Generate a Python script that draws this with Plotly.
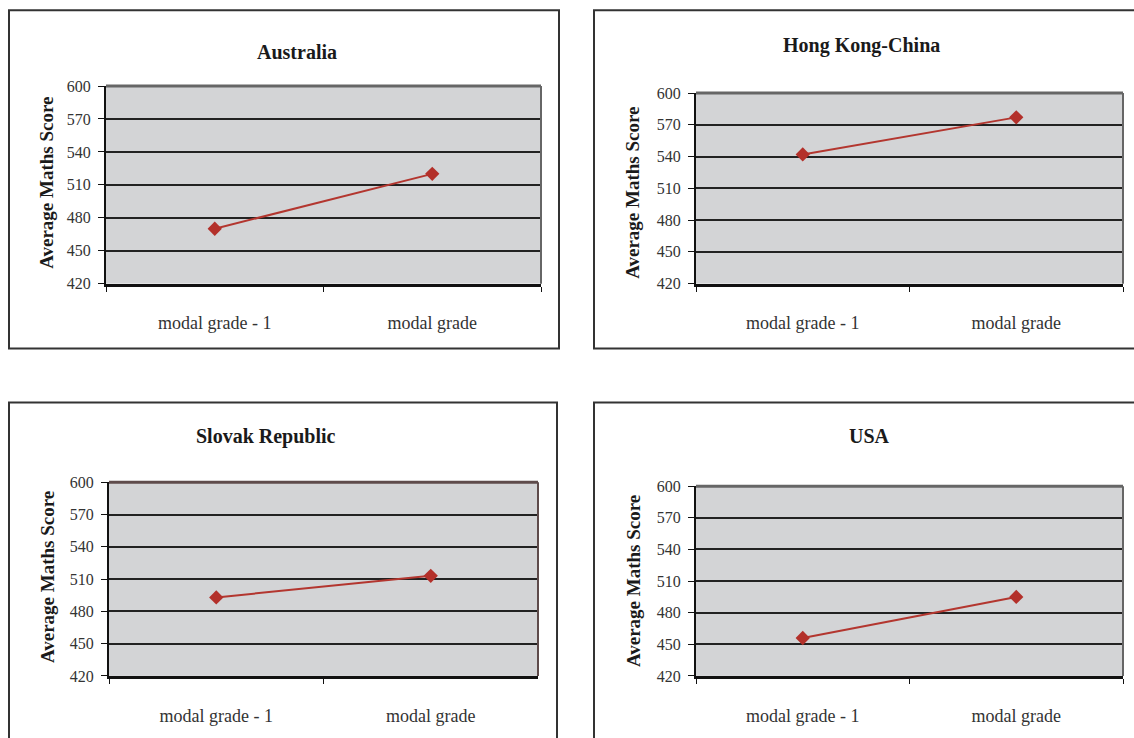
import plotly.graph_objects as go

W, H = 1134, 738

categories = ["modal grade - 1", "modal grade"]
countries = ["Australia", "Hong Kong-China", "Slovak Republic", "USA"]
australia = [470, 520]
hong_kong = [542, 577]
slovak = [493, 513]
usa = [456, 495]
y_ticks = [420, 450, 480, 510, 540, 570, 600]
y_title = "Average Maths Score"

series = [australia, hong_kong, slovak, usa]

# layout in pixels: plot area (x0, x1, y0, y1), panel box, title pos, ytitle pos
panels = [
    dict(plot=(106, 541, 86, 284), box=(9, 559, 10, 349), title=(297, 52), ytitle=(47, 183), edge="#666666"),
    dict(plot=(696, 1123, 93, 284), box=(594, 1145, 10, 349), title=(861, 45), ytitle=(633, 193), edge="#666666"),
    dict(plot=(109, 538, 483, 677), box=(9, 557, 403, 760), title=(266, 437), ytitle=(47, 578), edge="#5e4b4b"),
    dict(plot=(696, 1123, 487, 677), box=(594, 1145, 403, 760), title=(869, 437), ytitle=(633, 582), edge="#666666"),
]

# the rendered page maps figure y to screen y as approx 0.9788*y + 7.83; compensate
SY, OY = 0.9788, 7.83

def px(x):
    return x / W

def py(y):
    return 1 - ((y - OY) / SY) / H

FONT = "Liberation Serif"
fig = go.Figure()
layout = dict(
    width=W, height=H, margin=dict(l=0, r=0, t=0, b=0), autosize=False,
    paper_bgcolor="white", plot_bgcolor="#d3d4d6", showlegend=False,
    font=dict(family=FONT, color="#333333"),
)
shapes = []
annotations = []

for i, (name, vals, p) in enumerate(zip(countries, series, panels)):
    sfx = "" if i == 0 else str(i + 1)
    fig.add_trace(go.Scatter(
        x=categories, y=vals, mode="lines+markers",
        line=dict(color="#b3362f", width=2),
        marker=dict(symbol="diamond", size=11, color="#b3302a"),
        xaxis="x" + sfx, yaxis="y" + sfx,
    ))
    x0, x1, y0, y1 = p["plot"]
    layout["xaxis" + sfx] = dict(
        domain=[px(x0), px(x1)], anchor="y" + sfx,
        type="category", range=[-0.5, 1.5],
        showline=True, linecolor="#111111", linewidth=3,
        ticks="outside", tickson="boundaries", ticklen=5, tickcolor="#111111", tickwidth=1,
        showgrid=False, ticklabelstandoff=21,
        tickfont=dict(family=FONT, size=18, color="#333333"),
        fixedrange=True,
    )
    layout["yaxis" + sfx] = dict(
        domain=[py(y1), py(y0)], anchor="x" + sfx,
        range=[420, 600], tickvals=y_ticks,
        showline=True, linecolor="#111111", linewidth=2,
        ticks="outside", ticklen=6, tickcolor="#111111", tickwidth=1,
        showgrid=True, gridcolor="#222222", gridwidth=2,
        zeroline=False, ticklabelstandoff=4,
        tickfont=dict(family=FONT, size=16, color="#333333"),
        fixedrange=True,
    )
    # top and right plot-area edges
    shapes.append(dict(type="line", xref="x" + sfx + " domain", yref="y" + sfx + " domain",
                       x0=0, x1=1, y0=1, y1=1, line=dict(color=p["edge"], width=3), layer="above"))
    shapes.append(dict(type="line", xref="x" + sfx + " domain", yref="y" + sfx + " domain",
                       x0=1, x1=1, y0=0, y1=1, line=dict(color=p["edge"], width=2), layer="above"))
    # panel box
    bx0, bx1, by0, by1 = p["box"]
    shapes.append(dict(type="rect", xref="paper", yref="paper",
                       x0=px(bx0), x1=px(bx1), y0=py(by1), y1=py(by0),
                       line=dict(color="#333333", width=2), fillcolor="rgba(0,0,0,0)", layer="below"))
    tx, ty = p["title"]
    annotations.append(dict(text="<b>" + name + "</b>", xref="paper", yref="paper",
                            x=px(tx), y=py(ty), showarrow=False, xanchor="center", yanchor="middle",
                            font=dict(family=FONT, size=20, color="#1a1a1a")))
    ax, ay = p["ytitle"]
    annotations.append(dict(text="<b>" + y_title + "</b>", xref="paper", yref="paper",
                            x=px(ax), y=py(ay), showarrow=False, textangle=-90,
                            xanchor="center", yanchor="middle",
                            font=dict(family=FONT, size=19, color="#1a1a1a")))

layout["shapes"] = shapes
layout["annotations"] = annotations
fig.update_layout(**layout)

page_fix = (
    "var d=document.documentElement,b=document.body;"
    "d.style.margin='0';d.style.padding='0';d.style.overflow='hidden';"
    "b.style.margin='0';b.style.padding='0';b.style.overflow='hidden';"
)
fig.write_html(
    "out.html",
    config={"displayModeBar": False, "responsive": False},
    post_script=page_fix,
)
